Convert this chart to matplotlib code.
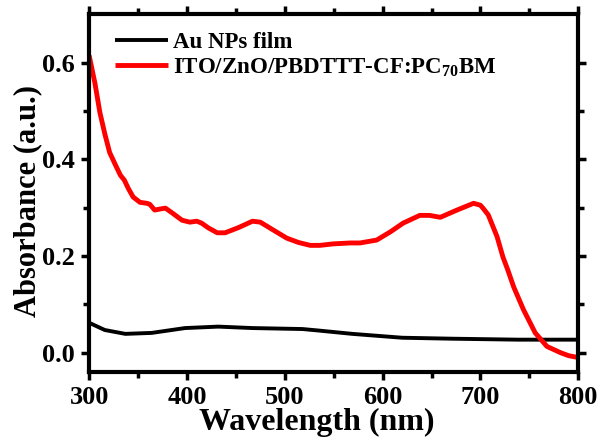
import numpy as np
import matplotlib.pyplot as plt

plt.rcParams['font.family'] = ['Liberation Serif', 'DejaVu Serif']
plt.rcParams['font.weight'] = 'bold'
plt.rcParams['mathtext.fontset'] = 'custom'
plt.rcParams['mathtext.rm'] = 'Liberation Serif:bold'
plt.rcParams['mathtext.bf'] = 'Liberation Serif:bold'

# red curve: ITO/ZnO/PBDTTT-CF:PC70BM
wl_red = [300, 306, 311, 316, 321, 327, 332, 336, 340, 345, 352, 359, 362, 367,
          372, 378, 385, 395, 403, 410, 415, 422, 431, 439, 453, 467, 475, 488,
          502, 514, 526, 536, 549, 567, 577, 594, 608, 621, 638, 648, 659, 676,
          693, 700, 703, 708, 713, 717, 723, 728, 734, 744, 756, 768, 782, 790, 800]
abs_red = [0.615, 0.557, 0.497, 0.453, 0.414, 0.388, 0.367, 0.357, 0.34, 0.322,
           0.311, 0.309, 0.307, 0.295, 0.297, 0.299, 0.289, 0.274, 0.27, 0.272,
           0.268, 0.258, 0.248, 0.248, 0.259, 0.272, 0.27, 0.254, 0.237, 0.228,
           0.222, 0.222, 0.225, 0.227, 0.227, 0.233, 0.25, 0.268, 0.284, 0.284,
           0.28, 0.295, 0.309, 0.305, 0.298, 0.285, 0.26, 0.24, 0.198, 0.171,
           0.136, 0.089, 0.041, 0.013, 0.0, -0.006, -0.01]

# black curve: Au NPs film
wl_blk = [300, 316, 337, 364, 398, 432, 467, 518, 534, 569, 620, 671, 739, 800]
abs_blk = [0.062, 0.047, 0.039, 0.041, 0.051, 0.054, 0.051, 0.049, 0.046,
           0.039, 0.031, 0.029, 0.027, 0.027]

fig = plt.figure(figsize=(5.98, 4.44), dpi=100)
ax = fig.add_axes([0.149, 0.162, 0.818, 0.806])

ax.plot(wl_blk, abs_blk, color='black', lw=2.8, label='Au NPs film',
        solid_joinstyle='round', solid_capstyle='butt')
ax.plot(wl_red, abs_red, color='#ff0000', lw=3.5, label='ITO/ZnO/PBDTTT-CF:PC$_{70}$BM',
        solid_joinstyle='round', solid_capstyle='butt')

ax.set_xlim(300, 800)
ax.set_ylim(-0.04, 0.7)
ax.set_xticks([300, 400, 500, 600, 700, 800])
ax.set_xticks([350, 450, 550, 650, 750], minor=True)
ax.set_yticks([0.0, 0.2, 0.4, 0.6])
ax.set_yticks([0.1, 0.3, 0.5], minor=True)
ax.set_yticklabels(['0.0', '0.2', '0.4', '0.6'])

for s in ax.spines.values():
    s.set_linewidth(3)
ax.tick_params(which='both', direction='out', width=2.5, top=True, right=True,
               labeltop=False, labelright=False)
ax.tick_params(which='major', length=6, labelsize=19, pad=4)
ax.tick_params(which='minor', length=4)

ax.set_xlabel('Wavelength (nm)', fontsize=23, fontweight='bold')
ax.xaxis.set_label_coords(0.466, -0.1)
ax.set_ylabel('Absorbance (a.u.)', fontsize=22, fontweight='bold')
ax.yaxis.set_label_coords(-0.095, 0.478)

ax.legend(loc='upper left', frameon=False, handlelength=2.3,
          handletextpad=0.2, labelspacing=0.1, borderaxespad=0,
          bbox_to_anchor=(0.035, 0.975),
          prop={'weight': 'bold', 'size': 16.5})

fig.savefig('out.png', dpi=100)
